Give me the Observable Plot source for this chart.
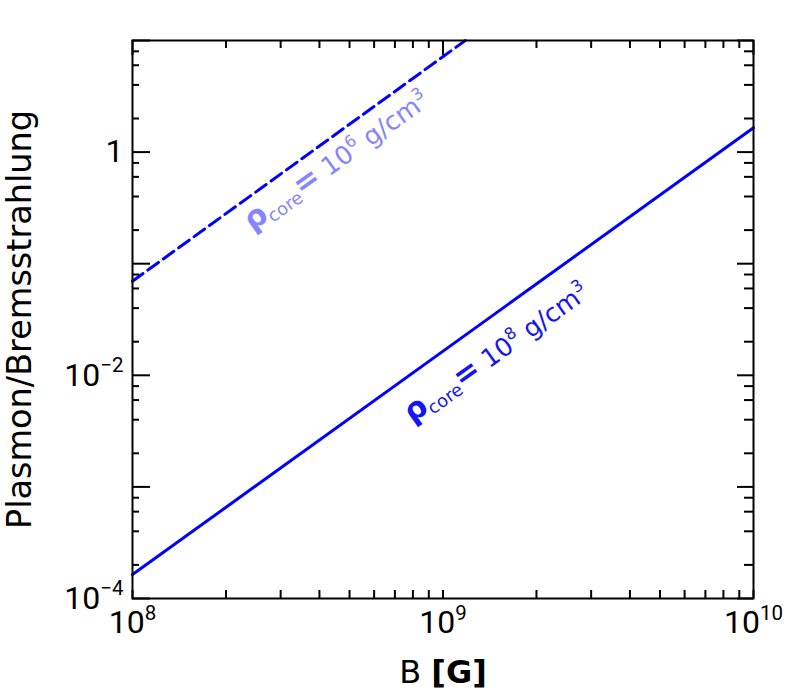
<!DOCTYPE html>
<html><head><meta charset="utf-8">
<script src="https://cdn.jsdelivr.net/npm/d3@7"></script>
<script src="https://cdn.jsdelivr.net/npm/@observablehq/plot@0.6"></script>
<style>html,body{margin:0;padding:0;background:#fff}</style>
</head><body><div id="chart"></div>
<script>
// ---- data ----
const xMajor = [1e8, 1e9, 1e10];
const xMinor = [2e8, 3e8, 4e8, 5e8, 6e8, 7e8, 8e8, 9e8, 2e9, 3e9, 4e9, 5e9, 6e9, 7e9, 8e9, 9e9];
const yMajor = [1e-4, 1e-3, 1e-2, 1e-1, 1, 10];
const yLabeled = [1e-4, 1e-2, 1];
const yMinor = [2e-4, 4e-4, 6e-4, 8e-4, 2e-3, 4e-3, 6e-3, 8e-3, 2e-2, 4e-2, 6e-2, 8e-2, 0.2, 0.4, 0.6, 0.8, 2, 4, 6, 8];
const solidB = [1e8, 1e10];
const solidRatio = [1.64e-4, 1.65];
const dashedB = [1e8, 1.18e9];
const dashedRatio = [0.0697, 10];
const labelB = [1.49e9, 4.55e8];
const labelRatio = [0.0158, 0.83];
const labelExponent = ["8", "6"];
const labelColor = ["#1414f5", "#8585ff"];
const xLabel = "B *{[G]}";
const yLabel = "Plasmon/Bremsstrahlung";

const solid = solidB.map((b, i) => ({B: b, r: solidRatio[i]}));
const dashed = dashedB.map((b, i) => ({B: b, r: dashedRatio[i]}));
const labels = labelB.map((b, i) => ({B: b, r: labelRatio[i], e: labelExponent[i], c: labelColor[i]}));

const W = 789, H = 691, mL = 132, mR = 36, mT = 40, mB = 93;
const fw = W - mL - mR, fh = H - mT - mB;
const fmt = d => d === 1 ? "1" : "10^{" + Math.round(Math.log10(d)) + "}";

const chart = Plot.plot({
  width: W, height: H,
  marginLeft: mL, marginRight: mR, marginTop: mT, marginBottom: mB,
  style: {fontFamily: "Roboto", background: "white", color: "black"},
  x: {type: "log", domain: [1e8, 1e10]},
  y: {type: "log", domain: [1e-4, 10]},
  marks: [
    Plot.line(solid, {x: "B", y: "r", stroke: "#0000ff", strokeWidth: 3}),
    Plot.line(dashed, {x: "B", y: "r", stroke: "#0000ff", strokeWidth: 3, strokeDasharray: "13,6"}),
    // bottom ticks (inward)
    Plot.tickX(xMajor, {x: d => d, insetTop: fh - 8, strokeWidth: 2}),
    Plot.tickX(xMinor, {x: d => d, insetTop: fh - 8, strokeWidth: 2}),
    // top ticks
    Plot.tickX(xMajor, {x: d => d, insetBottom: fh - 15, strokeWidth: 2}),
    Plot.tickX(xMinor, {x: d => d, insetBottom: fh - 8, strokeWidth: 2}),
    // left ticks
    Plot.tickY(yMajor, {y: d => d, insetRight: fw - 18, strokeWidth: 2}),
    Plot.tickY(yMinor, {y: d => d, insetRight: fw - 7, strokeWidth: 2}),
    // right ticks
    Plot.tickY(yMajor, {y: d => d, insetLeft: fw - 16, strokeWidth: 2}),
    Plot.tickY(yMinor, {y: d => d, insetLeft: fw - 9, strokeWidth: 2}),
    Plot.frame({stroke: "black", strokeWidth: 2}),
    Plot.axisX(xMajor, {tickSize: 0, tickPadding: 12, tickFormat: fmt, fontSize: 32, label: null}),
    Plot.axisY(yLabeled, {tickSize: 0, tickPadding: 9, tickFormat: fmt, fontSize: 32, label: null}),
    Plot.text([xLabel], {text: d => d, frameAnchor: "bottom", dy: 74, lineAnchor: "middle", textAnchor: "middle", fontSize: 32, fontFamily: "DejaVu Sans"}),
    Plot.text([yLabel], {text: d => d, frameAnchor: "left", dx: -112, rotate: -90, lineAnchor: "middle", textAnchor: "middle", fontSize: 33.5, fontFamily: "DejaVu Sans"}),
    Plot.text(labels, {x: "B", y: "r", text: d => "!{ρ}_{core}!{=} 10^{" + d.e + "} g/cm^{3}", fill: "c", rotate: -35.5, lineAnchor: "middle", textAnchor: "middle", fontSize: 25.5, fontFamily: "DejaVu Sans"})
  ]
});
document.getElementById("chart").appendChild(chart);

// rich text: ^{..} superscript, _{..} subscript, !{..} bold larger, *{..} bold
const svgns = "http://www.w3.org/2000/svg";
function richify(el) {
  const s = el.textContent;
  if (!/[_^!*]\{/.test(s)) return;
  const base = parseFloat(getComputedStyle(el).fontSize) || 16;
  const parts = s.split(/([_^!*]\{[^}]*\})/).filter(p => p !== "");
  el.textContent = "";
  let shift = 0;
  for (const p of parts) {
    const t = document.createElementNS(svgns, "tspan");
    let target = 0, txt = p, size = null, weight = null;
    if (/^[_^!*]\{/.test(p)) {
      const kind = p[0]; txt = p.slice(2, -1);
      if (kind === "^") { target = -0.42 * base; size = 0.64 * base; }
      else if (kind === "_") { target = 0.2 * base; size = 0.7 * base; }
      else if (kind === "!") { weight = "bold"; size = 1.2 * base; }
      else { weight = "bold"; }
    }
    const delta = target - shift;
    if (delta !== 0) t.setAttribute("dy", delta);
    shift = target;
    if (size) t.setAttribute("font-size", size);
    if (weight) t.setAttribute("font-weight", weight);
    t.textContent = txt.replace(/-/g, "\u2212");
    el.appendChild(t);
  }
}
chart.querySelectorAll("text").forEach(richify);
</script>
</body></html>
